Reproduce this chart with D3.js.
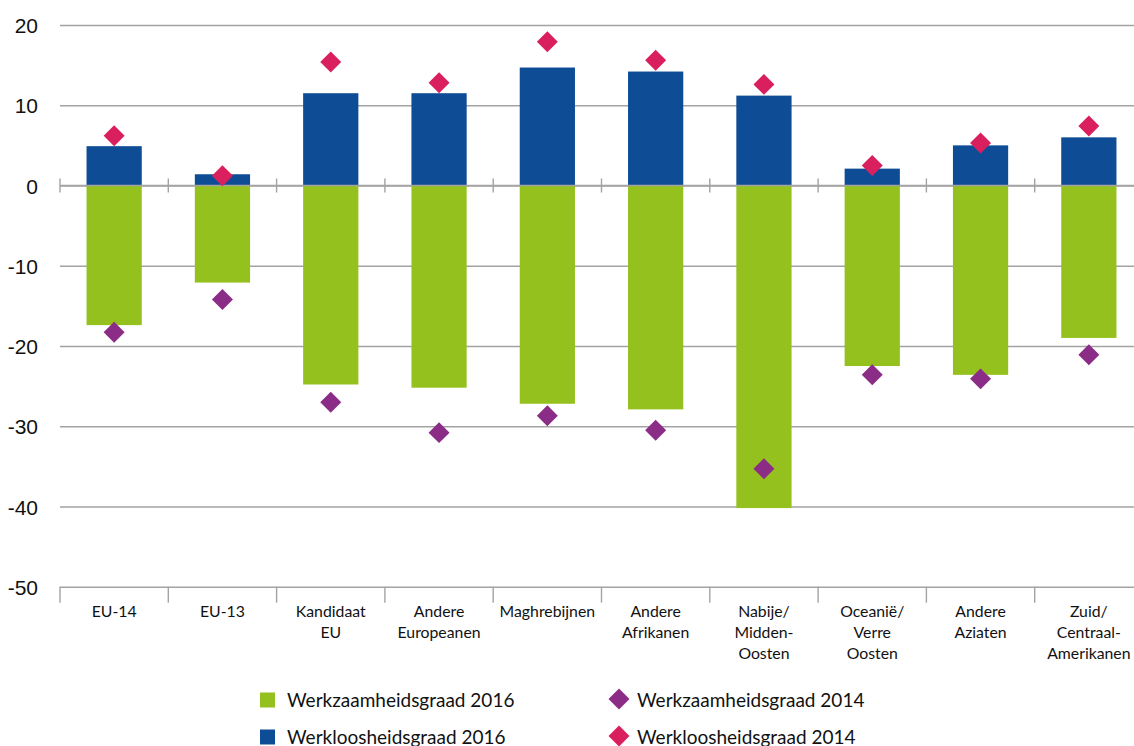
<!DOCTYPE html>
<html>
<head>
<meta charset="utf-8">
<script src="https://cdn.jsdelivr.net/npm/d3@7"></script>
<style>
  body { margin: 0; background: #fff; }
  svg { display: block; }
  .ytick text { font-family: "Liberation Sans", Arial, sans-serif; font-size: 21px; fill: #111; }
  .cat { font-family: Lato, "Noto Sans", sans-serif; font-size: 15.8px; fill: #111; }
  .legend text { font-family: Lato, "Noto Sans", sans-serif; font-size: 19px; fill: #111; }
</style>
</head>
<body>
<div id="chart"></div>
<script>
var categories = ["EU-14", "EU-13", "Kandidaat\nEU", "Andere\nEuropeanen", "Maghrebijnen",
  "Andere\nAfrikanen", "Nabije/\nMidden-\nOosten", "Oceanië/\nVerre\nOosten", "Andere\nAziaten",
  "Zuid/\nCentraal-\nAmerikanen"];

// werkzaamheidsgraad 2016 (green bars)
var werkzaam2016 = [-17.4, -12.1, -24.8, -25.2, -27.2, -27.9, -40.2, -22.5, -23.6, -19.0];
// werkloosheidsgraad 2016 (blue bars)
var werkloos2016 = [4.9, 1.4, 11.5, 11.5, 14.7, 14.2, 11.2, 2.1, 5.0, 6.0];
// werkzaamheidsgraad 2014 (purple diamonds)
var werkzaam2014 = [-18.3, -14.2, -27.0, -30.8, -28.7, -30.5, -35.3, -23.6, -24.1, -21.1];
// werkloosheidsgraad 2014 (pink diamonds)
var werkloos2014 = [6.2, 1.2, 15.4, 12.8, 17.9, 15.6, 12.6, 2.5, 5.3, 7.4];

var yTicks = [-50, -40, -30, -20, -10, 0, 10, 20];

var legendItems = [
  { label: "Werkzaamheidsgraad 2016", type: "square", color: "#95c11f", col: 0, row: 0 },
  { label: "Werkloosheidsgraad 2016", type: "square", color: "#0e4d96", col: 0, row: 1 },
  { label: "Werkzaamheidsgraad 2014", type: "diamond", color: "#8b2c87", col: 1, row: 0 },
  { label: "Werkloosheidsgraad 2014", type: "diamond", color: "#da1f5e", col: 1, row: 1 }
];

var width = 1134, height = 746;
var plotLeft = 60, plotRight = 1143, plotTop = 25, plotBottom = 586.7;

var svg = d3.select("#chart").append("svg")
  .attr("width", width)
  .attr("height", height);

var x = d3.scaleBand()
  .domain(categories)
  .range([plotLeft, plotRight])
  .paddingInner(0.49)
  .paddingOuter(0.245);

var y = d3.scaleLinear()
  .domain([-50, 20])
  .range([plotBottom, plotTop]);

// gridlines + y labels (plain hyphen, like the original)
var yAxis = d3.axisLeft(y)
  .tickValues(yTicks)
  .tickSize(-(width - plotLeft))
  .tickPadding(22)
  .tickFormat(function(d){ return String(d); });

var gy = svg.append("g")
  .attr("class", "ytick")
  .attr("transform", "translate(" + plotLeft + ",0)")
  .call(yAxis);
gy.select(".domain").remove();
gy.selectAll("line").attr("stroke", "#a3a3a3").attr("stroke-width", 1.4);
gy.selectAll("text").attr("dy", "0.36em");

// bars
var bars = svg.append("g");
bars.selectAll(".green").data(werkzaam2016).join("rect")
  .attr("x", function(d, i){ return x(categories[i]); })
  .attr("width", x.bandwidth())
  .attr("y", y(0))
  .attr("height", function(d){ return y(d) - y(0); })
  .attr("fill", "#95c11f");

bars.selectAll(".blue").data(werkloos2016).join("rect")
  .attr("x", function(d, i){ return x(categories[i]); })
  .attr("width", x.bandwidth())
  .attr("y", function(d){ return y(d); })
  .attr("height", function(d){ return y(0) - y(d); })
  .attr("fill", "#0e4d96");

// category boundary ticks
var bounds = d3.range(categories.length + 1).map(function(i){ return plotLeft + i * x.step(); });

svg.append("line")
  .attr("x1", plotLeft).attr("x2", width)
  .attr("y1", y(0)).attr("y2", y(0))
  .attr("stroke", "#a3a3a3").attr("stroke-width", 1.6);

svg.append("g").selectAll("line").data(bounds).join("line")
  .attr("x1", function(d){ return d; }).attr("x2", function(d){ return d; })
  .attr("y1", y(0) - 7).attr("y2", y(0) + 7)
  .attr("stroke", "#a3a3a3").attr("stroke-width", 1.4);

svg.append("g").selectAll("line").data(bounds).join("line")
  .attr("x1", function(d){ return d; }).attr("x2", function(d){ return d; })
  .attr("y1", y(-50)).attr("y2", y(-50) + 16)
  .attr("stroke", "#a3a3a3").attr("stroke-width", 1.4);

// diamonds
var diamond = d3.symbol().type(d3.symbolSquare).size(220);

function drawDiamonds(values, color) {
  svg.append("g").selectAll("path").data(values).join("path")
    .attr("d", diamond)
    .attr("transform", function(d, i){
      return "translate(" + (x(categories[i]) + x.bandwidth() / 2) + "," + y(d) + ") rotate(45)";
    })
    .attr("fill", color);
}
drawDiamonds(werkzaam2014, "#8b2c87");
drawDiamonds(werkloos2014, "#da1f5e");

// category labels
var cats = svg.append("g").selectAll("text").data(categories).join("text")
  .attr("class", "cat")
  .attr("text-anchor", "middle")
  .attr("x", function(d){ return x(d) + x.bandwidth() / 2; })
  .attr("y", 617);
cats.selectAll("tspan").data(function(d){ return d.split("\n"); }).join("tspan")
  .attr("x", function(){ var p = this.parentNode.__data__; return x(p) + x.bandwidth() / 2; })
  .attr("dy", function(d, i){ return i === 0 ? 0 : 21; })
  .text(function(d){ return d; });

// legend
var lg = svg.append("g").attr("class", "legend");
var colX = [260, 609], rowY = [700, 737];
legendItems.forEach(function(it){
  var cx = colX[it.col], cy = rowY[it.row];
  if (it.type === "square") {
    lg.append("rect").attr("x", cx).attr("y", cy - 7.5).attr("width", 15).attr("height", 15).attr("fill", it.color);
    lg.append("text").attr("x", cx + 27).attr("y", cy + 7).text(it.label);
  } else {
    lg.append("path").attr("d", diamond)
      .attr("transform", "translate(" + (cx + 10) + "," + (cy - 1) + ") rotate(45)")
      .attr("fill", it.color);
    lg.append("text").attr("x", cx + 28).attr("y", cy + 7).text(it.label);
  }
});
</script>
</body>
</html>
